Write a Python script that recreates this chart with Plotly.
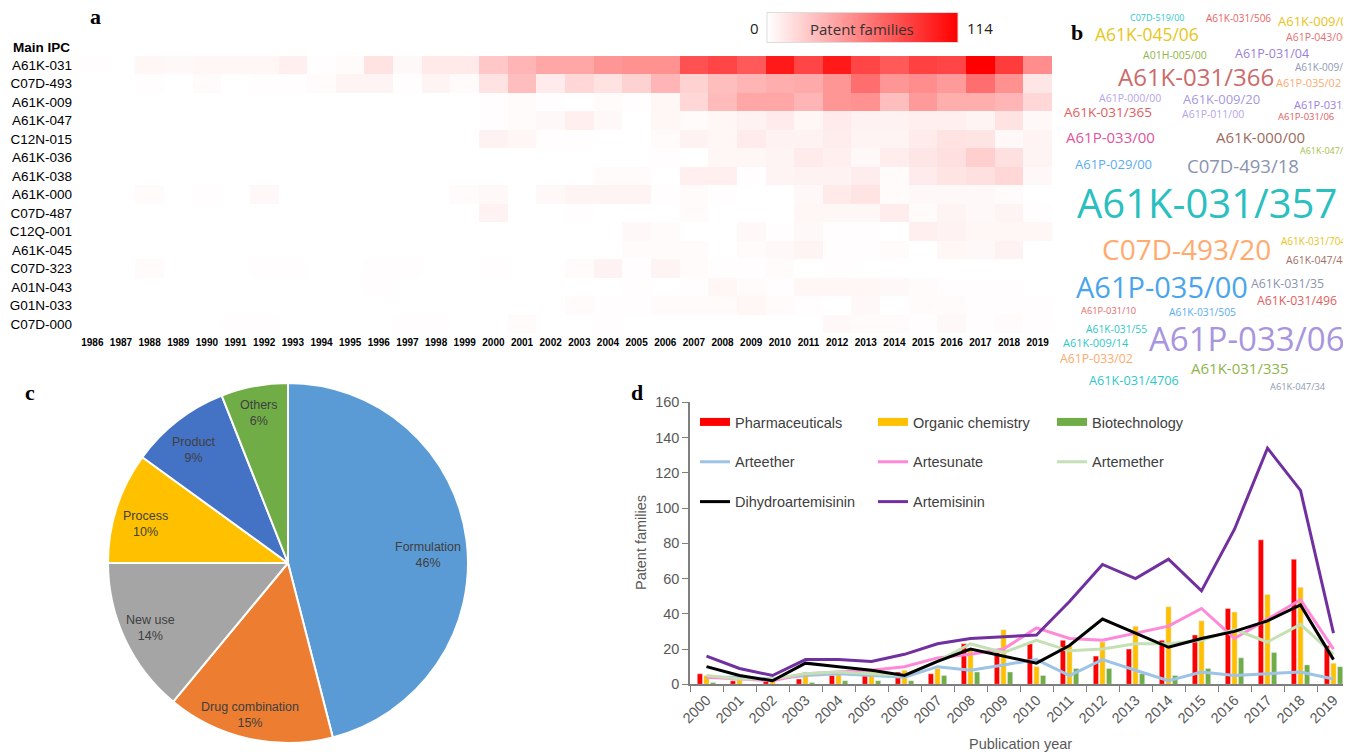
import plotly.graph_objects as go

# page body has an 8px default margin: the figure is drawn 8px smaller and coordinates are shifted
W, H = 1351, 752
OFF = 8
FW, FH = W - OFF, H - OFF
def px(x): return (x - OFF) / FW
def py(y): return 1 - (y - OFF) / FH

# ---------------- data: heatmap (a) ----------------
years_a = [str(y) for y in range(1986, 2020)]
ipc_main = ["A61K-031", "C07D-493", "A61K-009", "A61K-047", "C12N-015", "A61K-036", "A61K-038",
            "A61K-000", "C07D-487", "C12Q-001", "A61K-045", "C07D-323", "A01N-043", "G01N-033", "C07D-000"]
a61k_031 = [1,0,4,3,4,4,4,7,1,2,13,3,10,10,25,33,40,40,47,49,49,78,83,74,103,83,103,83,74,85,83,114,87,51]
c07d_493 = [0,0,1,0,2,0,1,1,2,5,5,1,5,2,13,29,9,18,13,20,33,20,29,33,36,38,47,65,47,51,45,65,49,11]
a61k_009 = [0,0,0,0,0,0,0,0,0,0,0,0,0,0,1,2,1,0,2,1,4,18,31,40,40,33,47,49,29,45,36,36,33,18]
a61k_047 = [0,0,0,0,0,0,0,0,0,0,0,0,0,0,1,2,3,7,3,0,4,2,4,6,9,4,9,6,6,7,7,5,13,3]
c12n_015 = [0,0,0,0,0,0,0,0,0,0,0,0,0,0,6,4,1,1,0,0,2,6,4,9,6,6,8,5,5,9,13,12,3,5]
a61k_036 = [0,0,0,0,0,0,0,0,0,0,0,0,0,0,0,0,0,0,0,0,1,0,4,4,5,9,7,3,8,11,14,22,14,5]
a61k_038 = [0,0,0,0,0,0,0,0,0,0,0,0,0,0,0,0,0,0,2,2,0,7,7,1,5,6,6,8,2,9,12,14,18,3]
a61k_000 = [0,0,2,0,1,0,3,0,0,0,0,0,0,2,3,0,3,5,5,5,1,2,1,0,0,3,10,12,2,3,3,3,2,0]
c07d_487 = [0,0,0,0,0,0,0,0,0,0,0,0,0,0,6,0,0,1,0,0,0,2,0,0,0,4,4,4,8,2,5,3,5,1]
c12q_001 = [0,0,0,0,0,0,0,0,0,0,0,0,0,0,0,0,0,0,0,3,2,0,0,3,1,3,1,1,0,7,6,4,4,4]
a61k_045 = [0,0,0,0,0,0,0,0,0,0,0,0,0,0,0,0,0,0,0,2,2,2,0,2,3,5,1,1,2,0,4,3,6,0]
c07d_323 = [0,0,2,0,0,0,1,1,0,0,1,1,0,0,1,0,0,2,6,1,5,2,1,1,2,0,1,0,0,0,0,0,0,0]
a01n_043 = [0,0,0,0,0,0,0,0,0,0,1,0,0,0,0,0,0,0,0,1,0,1,4,2,1,4,4,4,3,2,1,1,1,0]
g01n_033 = [0,0,0,0,0,0,0,0,0,0,0,0,0,0,0,0,0,2,1,1,2,2,2,4,2,1,0,3,0,2,2,1,1,1]
c07d_000 = [0,0,0,0,0,1,1,0,0,0,0,1,1,0,0,2,0,0,1,0,0,0,0,0,0,0,3,2,2,1,3,1,2,1]
heat_z = [a61k_031, c07d_493, a61k_009, a61k_047, c12n_015, a61k_036, a61k_038, a61k_000,
          c07d_487, c12q_001, a61k_045, c07d_323, a01n_043, g01n_033, c07d_000]
heat_max = 114

# ---------------- data: word cloud (b) ----------------
cloud_words = ["C07D-519/00", "A61K-031/506", "A61K-009/00", "A61K-045/06", "A61P-043/00",
               "A01H-005/00", "A61P-031/04", "A61K-009/48", "A61K-031/366", "A61P-035/02",
               "A61P-000/00", "A61K-009/20", "A61P-031/12", "A61K-031/365", "A61P-011/00",
               "A61P-031/06", "A61P-033/00", "A61K-000/00", "A61K-047/36", "A61P-029/00",
               "C07D-493/18", "A61K-031/357", "A61K-031/7048", "C07D-493/20", "A61K-047/48",
               "A61P-035/00", "A61K-031/35", "A61K-031/496", "A61P-031/10", "A61K-031/505",
               "A61K-031/55", "A61P-033/06", "A61K-009/14", "A61P-033/02", "A61K-031/335",
               "A61K-031/4706", "A61K-047/34"]
# layout of the cloud: (x px, y px, font size, colour)
cloud_style = [
    (1157, 18, 9, "#2ec8c8"), (1238, 18, 10, "#e86464"), (1316, 21, 13, "#e8c41a"),
    (1147, 34, 17.5, "#e6c619"), (1317, 37, 10.5, "#e87070"), (1175, 55, 10.5, "#8fb54a"),
    (1272, 53, 12.5, "#9a7fd8"), (1325, 67, 10, "#8e9ab6"), (1196, 76, 24, "#cc6b6b"),
    (1308, 82, 11, "#ffaa6e"), (1130, 98, 10.5, "#b6a4ea"), (1221, 99, 13, "#a898e0"),
    (1326, 104, 11, "#9b7ee0"), (1108, 112, 13.5, "#e25d5d"), (1213, 114, 10.5, "#b6a4ea"),
    (1306, 117, 9.5, "#e0605e"), (1110, 137, 15, "#e0559b"), (1260, 137, 15, "#9c6b5e"),
    (1326, 151, 9, "#a5c24a"), (1113, 164, 13, "#5aaef0"), (1243, 165, 18.5, "#8a93b0"),
    (1207, 202, 40, "#2bbfbf"), (1316, 241, 10, "#e8c41a"), (1186, 249, 28, "#ffaa6e"),
    (1317, 260, 10.5, "#a06f65"), (1162, 286, 29, "#4aa5ec"), (1287, 283, 12.3, "#8c95ae"),
    (1297, 300, 12.3, "#e25d5d"), (1108, 310, 9.3, "#e86a6a"), (1202, 312, 10.3, "#5aaef0"),
    (1116, 329, 10.3, "#2ec8c8"), (1247, 338, 33, "#a895e0"), (1096, 342, 11, "#2ec8c8"),
    (1096, 358, 12.3, "#ffaa6e"), (1240, 368, 15, "#8fb54a"), (1134, 380, 12.7, "#2ec8c8"),
    (1298, 386, 9.3, "#8e9ab6"),
]

# ---------------- data: pie (c) ----------------
pie_labels = ["Formulation", "Drug combination", "New use", "Process", "Product", "Others"]
pie_values = [46, 15, 14, 10, 9, 6]
pie_colors = ["#5b9bd5", "#ed7d31", "#a5a5a5", "#ffc000", "#4472c4", "#70ad47"]
# label placement inside each slice (px)
pie_text_xy = [(428, 555), (250, 715), (150, 628), (145, 524), (194, 450), (259, 413)]

# ---------------- data: bars + lines (d) ----------------
years_d = [str(y) for y in range(2000, 2020)]
pharmaceuticals = [6, 2, 2, 3, 5, 5, 7, 6, 23, 18, 23, 25, 16, 20, 25, 28, 43, 82, 71, 22]
organic_chem = [5, 3, 3, 7, 7, 8, 8, 9, 20, 31, 10, 22, 24, 33, 44, 36, 41, 51, 55, 12]
biotechnology = [1, 0, 0, 1, 2, 2, 2, 5, 7, 7, 5, 9, 9, 6, 5, 9, 15, 18, 11, 10]
arteether = [4, 4, 3, 5, 6, 5, 4, 10, 8, 11, 14, 5, 14, 8, 2, 7, 5, 6, 7, 3]
artesunate = [4, 3, 2, 6, 7, 8, 10, 15, 17, 20, 32, 26, 25, 29, 33, 43, 26, 37, 48, 20]
artemether = [5, 3, 3, 6, 7, 6, 5, 13, 23, 18, 25, 19, 20, 23, 23, 25, 31, 24, 34, 17]
dihydroartemisinin = [10, 5, 2, 12, 10, 8, 5, 13, 20, 16, 12, 22, 37, 29, 21, 26, 30, 36, 45, 14]
artemisinin = [16, 9, 5, 14, 14, 13, 17, 23, 26, 27, 28, 47, 68, 60, 71, 53, 88, 134, 110, 29]

GRAY = "#595959"
fig = go.Figure()

# (a) heatmap
fig.add_trace(go.Heatmap(
    z=heat_z, x=years_a, y=ipc_main, zmin=0, zmax=heat_max,
    colorscale=[[0, "#ffffff"], [1, "#ff0000"]],
    xaxis="x", yaxis="y", hoverongaps=False,
    colorbar=dict(orientation="h", x=px(862), xanchor="center", y=py(27.5), yanchor="middle",
                  len=191, lenmode="pixels", thickness=30, showticklabels=False, ticks="",
                  outlinewidth=1, outlinecolor="#dddddd", xpad=0, ypad=0,
                  bgcolor="rgba(0,0,0,0)"),
))

# (c) pie
fig.add_trace(go.Pie(
    labels=pie_labels, values=pie_values, sort=False, direction="clockwise", rotation=0,
    marker=dict(colors=pie_colors, line=dict(color="white", width=2)),
    textinfo="none",
    domain=dict(x=[px(108), px(468)], y=[py(743), py(383)]),
    showlegend=False,
))

# (d) bars
bar_series = [("Pharmaceuticals", pharmaceuticals, "#ff0000", "legend"),
              ("Organic chemistry", organic_chem, "#ffc000", "legend2"),
              ("Biotechnology", biotechnology, "#70ad47", "legend3")]
for name, vals, col, lg in bar_series:
    fig.add_trace(go.Bar(x=years_d, y=vals, name=name, marker_color=col,
                         xaxis="x2", yaxis="y2", showlegend=False))

# (d) lines
line_series = [("Arteether", arteether, "#9dc3e6", "legend", 2),
               ("Artesunate", artesunate, "#ff88d8", "legend2", 2),
               ("Artemether", artemether, "#c5e0b4", "legend3", 2),
               ("Dihydroartemisinin", dihydroartemisinin, "#000000", "legend", 3),
               ("Artemisinin", artemisinin, "#7030a0", "legend2", 3)]
for name, vals, col, lg, rk in line_series:
    fig.add_trace(go.Scatter(x=years_d, y=vals, name=name, mode="lines",
                             line=dict(color=col, width=3), xaxis="x2", yaxis="y2",
                             legend=lg, legendgroup=name, legendrank=rk))

# legend entries for bars (wide rectangle swatches)
for name, vals, col, lg in bar_series:
    fig.add_trace(go.Scatter(x=[None], y=[None], name=name, mode="lines",
                             line=dict(color=col, width=8), xaxis="x2", yaxis="y2",
                             legend=lg, legendgroup=name, legendrank=1))

leg_common = dict(orientation="v", xanchor="left", yanchor="top", bgcolor="rgba(0,0,0,0)",
                  font=dict(size=14.5, color="#404040", family="Liberation Sans"),
                  tracegroupgap=18, itemwidth=30, traceorder="grouped")
fig.update_layout(
    legend=dict(x=px(695), y=py(406), **leg_common),
    legend2=dict(x=px(873), y=py(406), **leg_common),
    legend3=dict(x=px(1052), y=py(406), **leg_common),
)

annotations = []
# word cloud annotations
for word, (x, y, s, c) in zip(cloud_words, cloud_style):
    annotations.append(dict(text=word, x=px(x), y=py(y), xref="paper", yref="paper",
                            xanchor="center", yanchor="middle", showarrow=False,
                            font=dict(size=s, color=c, family="Open Sans")))

# pie slice labels (label + share computed from the values)
pie_total = sum(pie_values)
for lab, val, (x, y) in zip(pie_labels, pie_values, pie_text_xy):
    annotations.append(dict(text=f"{lab}<br>{round(100 * val / pie_total)}%", x=px(x), y=py(y),
                            xref="paper", yref="paper", xanchor="center", yanchor="middle",
                            showarrow=False, align="center",
                            font=dict(size=12.5, color="#404040", family="Liberation Sans")))

# panel letters
for letter, x, y in [("a", 95, 17), ("b", 1077, 33), ("c", 30, 392), ("d", 637, 392)]:
    annotations.append(dict(text=letter, x=px(x), y=py(y), xref="paper", yref="paper",
                            xanchor="center", yanchor="middle", showarrow=False,
                            font=dict(size=22, color="black", family="Liberation Serif", weight="bold")))

# heatmap extra texts
annotations += [
    dict(text="Main IPC", x=px(11), y=py(48), xref="paper", yref="paper", xanchor="left",
         yanchor="middle", showarrow=False,
         font=dict(size=13.5, color="black", family="Liberation Sans", weight="bold")),
    dict(text="0", x=px(755), y=py(28), xref="paper", yref="paper", xanchor="center",
         yanchor="middle", showarrow=False, font=dict(size=15, color="#222222", family="Open Sans")),
    dict(text=str(heat_max), x=px(980), y=py(28), xref="paper", yref="paper", xanchor="center",
         yanchor="middle", showarrow=False, font=dict(size=15, color="#222222", family="Open Sans")),
    dict(text="Patent families", x=px(862), y=py(29), xref="paper", yref="paper", xanchor="center",
         yanchor="middle", showarrow=False, font=dict(size=15, color="#333333", family="Open Sans")),
    dict(text="Patent families", x=px(641), y=py(543), xref="paper", yref="paper", xanchor="center",
         yanchor="middle", showarrow=False, textangle=-90,
         font=dict(size=14.5, color=GRAY, family="Liberation Sans")),
    dict(text="Publication year", x=px(1020), y=py(744), xref="paper", yref="paper", xanchor="center",
         yanchor="middle", showarrow=False, font=dict(size=14.5, color=GRAY, family="Liberation Sans")),
]

fig.update_layout(
    width=FW, height=FH, margin=dict(l=0, r=0, t=0, b=0, autoexpand=False),
    paper_bgcolor="white", plot_bgcolor="white",
    font=dict(family="Liberation Sans", color="black"),
    annotations=annotations,
    barmode="group", bargap=0.4, bargroupgap=0.2,
    xaxis=dict(domain=[px(78), px(1052)], anchor="y", type="category", showgrid=False, automargin=False,
               zeroline=False, showline=False, ticks="", ticklabelstandoff=2,
               tickfont=dict(size=10, color="black", weight="bold"), tickangle=0),
    yaxis=dict(domain=[py(333), py(56)], anchor="x", type="category", autorange="reversed",
               showgrid=False, zeroline=False, showline=False, ticks="", ticklabelstandoff=5,
               automargin=False, tickfont=dict(size=13.5, color="black")),
    xaxis2=dict(domain=[px(690), px(1350)], anchor="y2", type="category", showgrid=False,
                automargin=False,
                zeroline=False, showline=True, linecolor="#7f7f7f", linewidth=1.5,
                ticks="outside", ticklen=6, tickcolor="#7f7f7f", tickson="boundaries",
                tickangle=-45, tickfont=dict(size=14.5, color=GRAY)),
    yaxis2=dict(domain=[py(684.3), py(402.3)], anchor="x2", range=[0, 160], dtick=20,
                automargin=False,
                showgrid=False, zeroline=False, showline=True, linecolor="#7f7f7f", linewidth=1.5,
                ticks="outside", ticklen=6, tickcolor="#7f7f7f",
                tickfont=dict(size=14.5, color=GRAY)),
)

fig.write_html("out.html")
